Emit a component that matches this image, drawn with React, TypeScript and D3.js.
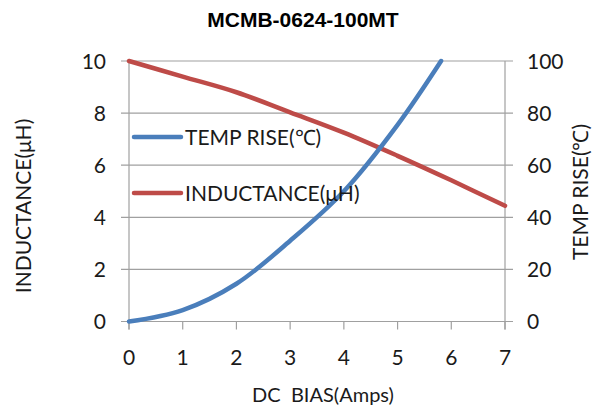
import React from "react";
import * as d3 from "d3";

const biasAmps = [0, 1, 2, 3, 4, 5, 6, 7];
const inductance = [10, 9.4, 8.8, 8.03, 7.25, 6.36, 5.42, 4.44];
const tempAmps = [0, 1, 2, 3, 4, 5, 5.81];
const tempRise = [0, 4.4, 14.5, 31, 50, 75.5, 100];
const leftTicks = [0, 2, 4, 6, 8, 10];
const rightTicks = [0, 20, 40, 60, 80, 100];
const xTicks = [0, 1, 2, 3, 4, 5, 6, 7];

const BLUE = "#4A7EBB";
const RED = "#BE4B48";
const GRID = "#A0A0A0";
const TEXT = "#1a1a1a";
const FONT = "Lato, 'Open Sans', sans-serif";

export default function App() {
  const x = d3.scaleLinear().domain([0, 7]).range([129, 505]);
  const yL = d3.scaleLinear().domain([0, 10]).range([321.5, 61]);
  const yR = d3.scaleLinear().domain([0, 100]).range([321.5, 61]);

  const indLine = d3
    .line<number>()
    .x((_, i) => x(biasAmps[i]))
    .y((d) => yL(d))
    .curve(d3.curveCatmullRom.alpha(0.5))(inductance);
  const tempLine = d3
    .line<number>()
    .x((_, i) => x(tempAmps[i]))
    .y((d) => yR(d))
    .curve(d3.curveCatmullRom.alpha(0.5))(tempRise);

  const [x0, x1] = x.range();
  const [yb, yt] = yL.range();

  return (
    <svg
      width={594}
      height={412}
      style={{ position: "absolute", left: 0, top: 0, background: "#fff" }}
      fontFamily={FONT}
    >
      <rect width={594} height={412} fill="#fff" />
      <text
        x={303}
        y={27}
        textAnchor="middle"
        fontFamily="'Liberation Sans', Arial, sans-serif"
        fontWeight="bold"
        fontSize={21}
        fill="#000"
      >
        MCMB-0624-100MT
      </text>

      {/* gridlines with left and right tick extensions */}
      {leftTicks.map((t) => (
        <line
          key={"g" + t}
          x1={x0 - 8}
          x2={x1 + 8}
          y1={yL(t)}
          y2={yL(t)}
          stroke={GRID}
          strokeWidth={1.2}
        />
      ))}
      {/* axes */}
      <line x1={x0} x2={x0} y1={yt} y2={yb + 8} stroke={GRID} strokeWidth={1.2} />
      <line x1={x1} x2={x1} y1={yt} y2={yb + 8} stroke={GRID} strokeWidth={1.2} />
      {xTicks.map((t) => (
        <line
          key={"xt" + t}
          x1={x(t)}
          x2={x(t)}
          y1={yb}
          y2={yb + 8}
          stroke={GRID}
          strokeWidth={1.2}
        />
      ))}

      {/* tick labels */}
      {leftTicks.map((t) => (
        <text
          key={"ll" + t}
          x={106}
          y={yL(t)}
          dy="0.36em"
          textAnchor="end"
          fontSize={21}
          fill={TEXT}
        >
          {t}
        </text>
      ))}
      {rightTicks.map((t) => (
        <text
          key={"rl" + t}
          x={527}
          y={yR(t)}
          dy="0.36em"
          textAnchor="start"
          fontSize={21}
          fill={TEXT}
        >
          {t}
        </text>
      ))}
      {xTicks.map((t) => (
        <text
          key={"xl" + t}
          x={x(t)}
          y={357}
          dy="0.36em"
          textAnchor="middle"
          fontSize={21}
          fill={TEXT}
        >
          {t}
        </text>
      ))}

      {/* axis titles */}
      <text x={323} y={395} dy="0.36em" textAnchor="middle" fontSize={20} fill={TEXT}>
        DC{"\u00A0\u00A0"}BIAS(Amps)
      </text>
      <text
        transform="translate(23,206) rotate(-90)"
        textAnchor="middle"
        dy="0.36em"
        fontSize={21}
        fill={TEXT}
      >
        INDUCTANCE(μH)
      </text>
      <text
        transform="translate(580,192) rotate(-90)"
        textAnchor="middle"
        dy="0.36em"
        fontSize={21}
        fill={TEXT}
      >
        TEMP RISE(℃)
      </text>

      {/* series */}
      <path d={indLine || ""} fill="none" stroke={RED} strokeWidth={4.5} strokeLinecap="round" />
      <path d={tempLine || ""} fill="none" stroke={BLUE} strokeWidth={4.5} strokeLinecap="round" />

      {/* legend */}
      <line x1={134} x2={181} y1={137} y2={137} stroke={BLUE} strokeWidth={4.5} strokeLinecap="round" />
      <text x={185} y={137} dy="0.36em" fontSize={21} fill={TEXT}>
        TEMP RISE(℃)
      </text>
      <line x1={134} x2={181} y1={193} y2={193} stroke={RED} strokeWidth={4.5} strokeLinecap="round" />
      <text x={185} y={193} dy="0.36em" fontSize={21} fill={TEXT}>
        INDUCTANCE(μH)
      </text>
    </svg>
  );
}
